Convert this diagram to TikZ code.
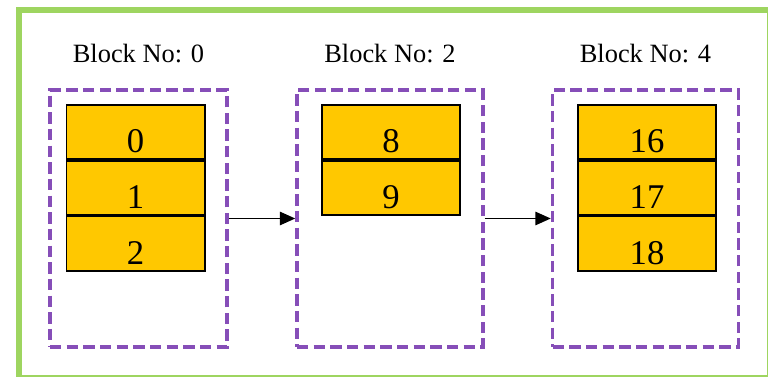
\documentclass[tikz,border=0pt]{standalone}
\usepackage{fontspec}
\setmainfont{Liberation Serif}
\usetikzlibrary{arrows.meta,positioning}

\definecolor{framegreen}{RGB}{158,213,96}
\definecolor{blockpurple}{RGB}{134,78,184}
\definecolor{cellgold}{RGB}{255,200,0}

\begin{document}
\begin{tikzpicture}[x=0.75pt, y=-0.75pt,
    blockbox/.style={draw=blockpurple, line width=2.6pt, dash pattern=on 8.5pt off 4pt,
        minimum height=192.75pt, inner sep=0pt},
    cell/.style={draw=black, line width=1.2pt, fill=cellgold, minimum width=103.8pt,
        minimum height=40.75pt, inner sep=0pt, text height=31pt, text depth=0pt,
        font=\fontsize{26}{26}\selectfont},
    blocklabel/.style={font=\fontsize{19.8}{20}\selectfont, inner sep=0pt},
    link/.style={-{Triangle[length=11.5pt, width=10pt]}, line width=1.2pt}]
    \useasboundingbox (0,0) rectangle (768,377);

    % Outer frame
    \draw[framegreen, line width=4pt] (19,10) rectangle (769.5,377.5);

    % Dashed block outlines
    \node[blockbox, minimum width=132.75pt] (blk0) at (138.5,218.5) {};
    \node[blockbox, minimum width=139.5pt] (blk2) at (390,218.5) {};
    \node[blockbox, minimum width=139.5pt] (blk4) at (645.5,218.5) {};

    % Block titles
    \node[blocklabel, above=19pt of blk0] (lbl0) {Block No: 0};
    \node[blocklabel, above=19pt of blk2] (lbl2) {Block No: 2};
    \node[blocklabel, above=19pt of blk4] (lbl4) {Block No: 4};

    % Entries of block 0
    \node[cell] (c0) at (135.5,132) {0};
    \node[cell, below=0pt of c0] (c1) {1};
    \node[cell, below=0pt of c1] (c2) {2};

    % Entries of block 2
    \node[cell] (c8) at (391,132) {8};
    \node[cell, below=0pt of c8] (c9) {9};

    % Entries of block 4
    \node[cell] (c16) at (647,132) {16};
    \node[cell, below=0pt of c16] (c17) {17};
    \node[cell, below=0pt of c17] (c18) {18};

    % Links between blocks
    \draw[link] (blk0.east) -- (blk2.west);
    \draw[link] (blk2.east) -- (blk4.west);
\end{tikzpicture}
\end{document}
